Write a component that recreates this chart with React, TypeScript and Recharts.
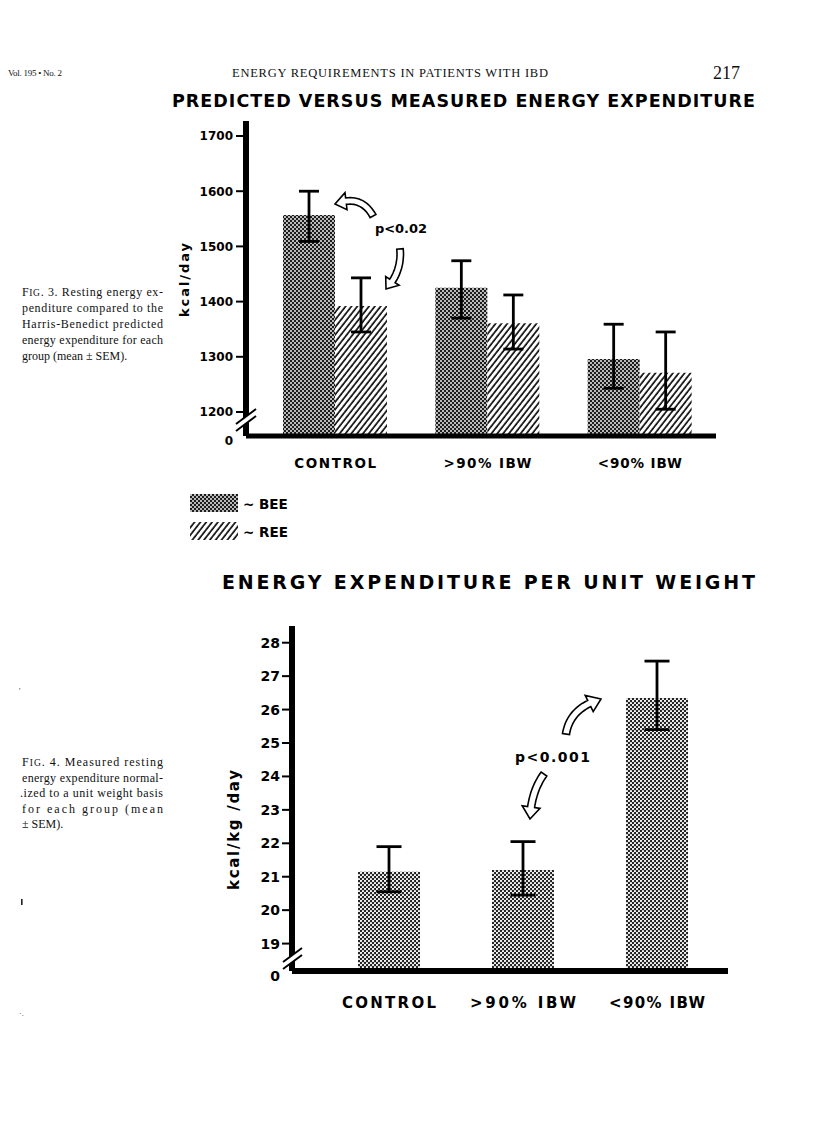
import React from 'react';
import { BarChart, Bar, XAxis, YAxis, ErrorBar } from 'recharts';

// Fig. 3 – predicted (BEE) vs measured (REE) energy expenditure, kcal/day
const groups = ['CONTROL', '>90% IBW', '<90% IBW'];
const beeValues = [1557, 1425, 1296];
const beeErrors = [[48, 43], [55, 49], [53, 63]];
const reeValues = [1392, 1361, 1271];
const reeErrors = [[47, 51], [47, 51], [66, 74]];
const kcalTicks = [1200, 1300, 1400, 1500, 1600, 1700];
const kcalDomain = [1156.5, 1727.2];

// Fig. 4 – measured REE per unit weight, kcal/kg/day
const perKgValues = [21.15, 21.2, 26.35];
const perKgErrors = [[0.6, 0.75], [0.75, 0.85], [0.95, 1.1]];
const perKgTicks = [19, 20, 21, 22, 23, 24, 25, 26, 27, 28];
const perKgDomain = [18.18, 28.5];

const breakLabel = '0';

const kcalData = groups.map((group, i) => ({
  group,
  bee: beeValues[i],
  beeErr: beeErrors[i],
  ree: reeValues[i],
  reeErr: reeErrors[i],
}));

const perKgData = groups.map((group, i) => ({
  group,
  value: perKgValues[i],
  err: perKgErrors[i],
}));

const SANS = '"DejaVu Sans", "Liberation Sans", sans-serif';
const SERIF = '"Liberation Serif", "Times New Roman", serif';

type P = [number, number];

// hollow curved arrow (outline) built along a quadratic curve
function arrowPath(p0: P, c: P, p1: P, w: number, hl: number, hw: number) {
  const q = (t: number): P => [
    (1 - t) * (1 - t) * p0[0] + 2 * (1 - t) * t * c[0] + t * t * p1[0],
    (1 - t) * (1 - t) * p0[1] + 2 * (1 - t) * t * c[1] + t * t * p1[1],
  ];
  const d = (t: number): P => [
    2 * (1 - t) * (c[0] - p0[0]) + 2 * t * (p1[0] - c[0]),
    2 * (1 - t) * (c[1] - p0[1]) + 2 * t * (p1[1] - c[1]),
  ];
  let len = 0;
  let prev = p0;
  for (let i = 1; i <= 40; i++) {
    const pt = q(i / 40);
    len += Math.hypot(pt[0] - prev[0], pt[1] - prev[1]);
    prev = pt;
  }
  const th = 1 - hl / len;
  const nrm = (t: number): P => {
    const dv = d(t);
    const m = Math.hypot(dv[0], dv[1]) || 1;
    return [-dv[1] / m, dv[0] / m];
  };
  const left: P[] = [];
  const right: P[] = [];
  const N = 16;
  for (let i = 0; i <= N; i++) {
    const t = (th * i) / N;
    const pt = q(t);
    const n = nrm(t);
    left.push([pt[0] + (n[0] * w) / 2, pt[1] + (n[1] * w) / 2]);
    right.push([pt[0] - (n[0] * w) / 2, pt[1] - (n[1] * w) / 2]);
  }
  const base = q(th);
  const n = nrm(th);
  const pts: P[] = [
    ...left,
    [base[0] + (n[0] * hw) / 2, base[1] + (n[1] * hw) / 2],
    p1,
    [base[0] - (n[0] * hw) / 2, base[1] - (n[1] * hw) / 2],
    ...right.reverse(),
  ];
  return 'M' + pts.map((p) => `${p[0].toFixed(1)},${p[1].toFixed(1)}`).join(' L') + ' Z';
}

const makeYTick = (firstTick: number, fontSize: number, gap: number) => (props: any) => {
  const { x, y, payload } = props;
  const isBreak = payload.value < firstTick;
  return (
    <g>
      {!isBreak && <line x1={x - 10} x2={x - 2} y1={y} y2={y} stroke="#000" strokeWidth={2} />}
      <text
        x={x - gap}
        y={y + (isBreak ? 5 : 0)}
        dy="0.36em"
        textAnchor="end"
        fontFamily={SANS}
        fontWeight={700}
        fontSize={fontSize}
        fill="#000"
      >
        {isBreak ? breakLabel : payload.value}
      </text>
    </g>
  );
};

const makeXTick = (dy: number, fontSize: number, widths: number[]) => (props: any) => {
  const { x, y, payload, index } = props;
  return (
    <text
      x={x}
      y={y + dy}
      textAnchor="middle"
      fontFamily={SANS}
      fontWeight={700}
      fontSize={fontSize}
      textLength={widths[index]}
      lengthAdjust="spacing"
      fill="#000"
    >
      {payload.value}
    </text>
  );
};

const KcalYTick = makeYTick(kcalTicks[0], 12, 13);
const PerKgYTick = makeYTick(perKgTicks[0], 14, 12);
const KcalXTick = makeXTick(32, 13.5, [82, 88, 84]);
const PerKgXTick = makeXTick(37, 15, [94, 106, 96]);

const Patterns = ({ prefix }: { prefix: string }) => (
  <defs>
    <pattern id={`${prefix}bee`} width="4" height="4" patternUnits="userSpaceOnUse">
      <rect width="4" height="4" fill="#1c1c1c" />
      <circle cx="1" cy="1" r="0.95" fill="#fff" />
      <circle cx="3" cy="3" r="0.95" fill="#fff" />
    </pattern>
    <pattern id={`${prefix}kg`} width="4" height="4" patternUnits="userSpaceOnUse">
      <rect width="4" height="4" fill="#222" />
      <circle cx="1" cy="1" r="1.12" fill="#fff" />
      <circle cx="3" cy="3" r="1.12" fill="#fff" />
    </pattern>
    <pattern
      id={`${prefix}ree`}
      width="4.6"
      height="4.6"
      patternUnits="userSpaceOnUse"
      patternTransform="rotate(38)"
    >
      <rect width="4.6" height="4.6" fill="#fff" />
      <line x1="1" y1="0" x2="1" y2="4.6" stroke="#000" strokeWidth="1.6" />
    </pattern>
  </defs>
);

const Overlay = () => {
  const capLine = (text: string, y: number, width?: number, x = 22) => (
    <text
      key={text}
      x={x}
      y={y}
      fontFamily={SERIF}
      fontSize={12}
      fill="#111"
      textLength={width}
      lengthAdjust={width ? 'spacing' : undefined}
    >
      {text}
    </text>
  );
  return (
    <svg
      width={816}
      height={1138}
      style={{ position: 'absolute', left: 0, top: 0, pointerEvents: 'none' }}
    >
      <Patterns prefix="lg-" />
      {/* running head */}
      <text x={8} y={76} fontFamily={SERIF} fontSize={9} textLength={54} fill="#111">
        Vol. 195 • No. 2
      </text>
      <text x={232} y={77} fontFamily={SERIF} fontSize={12.5} textLength={316} fill="#111">
        ENERGY REQUIREMENTS IN PATIENTS WITH IBD
      </text>
      <text x={713} y={79} fontFamily={SERIF} fontSize={18} fill="#111">
        217
      </text>

      {/* titles */}
      <text x={172} y={107} fontFamily={SANS} fontWeight={700} fontSize={17.5} textLength={583} fill="#000">
        PREDICTED VERSUS MEASURED ENERGY EXPENDITURE
      </text>
      <text x={222} y={589} fontFamily={SANS} fontWeight={700} fontSize={19} textLength={533} fill="#000">
        ENERGY EXPENDITURE PER UNIT WEIGHT
      </text>

      {/* captions */}
      <text x={22} y={296} fontFamily={SERIF} fontSize={12} fill="#111" textLength={141}>
        F<tspan fontSize={9.5}>IG</tspan>. 3. Resting energy ex-
      </text>
      {capLine('penditure compared to the', 312, 141)}
      {capLine('Harris-Benedict  predicted', 328, 141)}
      {capLine('energy expenditure for each', 344, 141)}
      {capLine('group (mean ±  SEM).', 360)}

      <text x={22} y={766} fontFamily={SERIF} fontSize={12} fill="#111" textLength={141}>
        F<tspan fontSize={9.5}>IG</tspan>. 4. Measured resting
      </text>
      {capLine('energy expenditure normal-', 781.5, 141)}
      {capLine('.ized to a unit weight basis', 797, 143, 20)}
      {capLine('for  each  group  (mean', 812.5, 141)}
      {capLine('± SEM).', 828)}

      {/* stray specks from the scan */}
      <text x={19} y={694} fontFamily={SERIF} fontSize={8} fill="#333">'</text>
      <rect x={21} y={899} width={1.6} height={6} fill="#222" />
      <text x={19} y={1016} fontFamily={SERIF} fontSize={8} fill="#333">·.</text>

      {/* axis titles */}
      <text
        x={184}
        y={280}
        transform="rotate(-90 184 280)"
        textAnchor="middle"
        dy="0.35em"
        fontFamily={SANS}
        fontWeight={700}
        fontSize={13}
        textLength={74}
        fill="#000"
      >
        kcal/day
      </text>
      <text
        x={234}
        y={830}
        transform="rotate(-90 234 830)"
        textAnchor="middle"
        dy="0.35em"
        fontFamily={SANS}
        fontWeight={700}
        fontSize={15}
        textLength={120}
        fill="#000"
      >
        kcal/kg /day
      </text>

      {/* axis breaks */}
      <polygon points="236,424 256,409 256,416 236,431" fill="#fff" />
      <line x1={236} y1={424} x2={256} y2={409} stroke="#000" strokeWidth={2} />
      <line x1={236} y1={431} x2={256} y2={416} stroke="#000" strokeWidth={2} />
      <polygon points="283,962 302,948 302,955 283,969" fill="#fff" />
      <line x1={283} y1={962} x2={302} y2={948} stroke="#000" strokeWidth={2} />
      <line x1={283} y1={969} x2={302} y2={955} stroke="#000" strokeWidth={2} />

      {/* significance annotations */}
      <path d={arrowPath([373, 216], [361, 194], [335, 204], 6.5, 10, 17)} fill="#fff" stroke="#000" strokeWidth={1.6} />
      <path d={arrowPath([400, 249], [402, 272], [386, 289], 6.5, 10, 16)} fill="#fff" stroke="#000" strokeWidth={1.6} />
      <text x={375} y={233} fontFamily={SANS} fontWeight={700} fontSize={13} textLength={52} fill="#000">
        p&lt;0.02
      </text>
      <path d={arrowPath([566, 734], [570, 708], [601, 699], 7, 11, 18)} fill="#fff" stroke="#000" strokeWidth={1.6} />
      <path d={arrowPath([544, 774], [531, 792], [530, 819], 7, 11, 18)} fill="#fff" stroke="#000" strokeWidth={1.6} />
      <text x={515} y={762} fontFamily={SANS} fontWeight={700} fontSize={14} textLength={75} fill="#000">
        p&lt;0.001
      </text>

      {/* legend */}
      <rect x={190} y={494} width={48} height={18} fill="url(#lg-bee)" />
      <text x={243} y={509} fontFamily={SANS} fontWeight={700} fontSize={13.5} fill="#000">
        ~ BEE
      </text>
      <rect x={190} y={522} width={48} height={18} fill="url(#lg-ree)" />
      <text x={243} y={537} fontFamily={SANS} fontWeight={700} fontSize={13.5} fill="#000">
        ~ REE
      </text>
    </svg>
  );
};

// error bars are drawn in a second, axis-less chart on top so that the
// whisker stays solid black where it crosses the patterned bar
const errStyle = { stroke: '#000', strokeWidth: 2.8 };

export default function App() {
  return (
    <div style={{ position: 'absolute', left: 0, top: 0, width: 816, height: 1138, background: '#fff' }}>
      <div style={{ position: 'absolute', left: 0, top: 0 }}>
        <BarChart
          width={816}
          height={560}
          data={kcalData}
          margin={{ top: 121, right: 100, left: 186, bottom: 84 }}
          barGap={0}
        >
          <Patterns prefix="c1-" />
          <XAxis
            dataKey="group"
            height={40}
            axisLine={{ stroke: '#000', strokeWidth: 5 }}
            tickLine={false}
            tickSize={0}
            tickMargin={0}
            interval={0}
            padding={{ left: 13, right: 0 }}
            tick={<KcalXTick />}
          />
          <YAxis
            type="number"
            width={60}
            domain={kcalDomain}
            allowDataOverflow
            ticks={[kcalDomain[0], ...kcalTicks]}
            interval={0}
            axisLine={{ stroke: '#000', strokeWidth: 6 }}
            tickLine={false}
            tickSize={0}
            tickMargin={0}
            tick={<KcalYTick />}
          />
          <Bar dataKey="bee" fill="url(#c1-bee)" barSize={52} isAnimationActive={false} />
          <Bar dataKey="ree" fill="url(#c1-ree)" barSize={52} isAnimationActive={false} />
        </BarChart>
      </div>
      <div style={{ position: 'absolute', left: 0, top: 0 }}>
        <BarChart
          width={816}
          height={560}
          data={kcalData}
          margin={{ top: 121, right: 100, left: 246, bottom: 124 }}
          barGap={0}
        >
          <XAxis dataKey="group" hide padding={{ left: 13, right: 0 }} />
          <YAxis type="number" hide domain={kcalDomain} allowDataOverflow />
          <Bar dataKey="bee" fill="none" barSize={52} isAnimationActive={false}>
            <ErrorBar dataKey="beeErr" direction="y" width={10} {...errStyle} />
          </Bar>
          <Bar dataKey="ree" fill="none" barSize={52} isAnimationActive={false}>
            <ErrorBar dataKey="reeErr" direction="y" width={10} {...errStyle} />
          </Bar>
        </BarChart>
      </div>
      <div style={{ position: 'absolute', left: 0, top: 560 }}>
        <BarChart
          width={816}
          height={560}
          data={perKgData}
          margin={{ top: 66, right: 88, left: 232, bottom: 109 }}
        >
          <Patterns prefix="c2-" />
          <XAxis
            dataKey="group"
            height={40}
            axisLine={{ stroke: '#000', strokeWidth: 6 }}
            tickLine={false}
            tickSize={0}
            tickMargin={0}
            interval={0}
            padding={{ left: 30, right: 4 }}
            tick={<PerKgXTick />}
          />
          <YAxis
            type="number"
            width={60}
            domain={perKgDomain}
            allowDataOverflow
            ticks={[perKgDomain[0], ...perKgTicks]}
            interval={0}
            axisLine={{ stroke: '#000', strokeWidth: 6 }}
            tickLine={false}
            tickSize={0}
            tickMargin={0}
            tick={<PerKgYTick />}
          />
          <Bar dataKey="value" fill="url(#c2-kg)" barSize={62} isAnimationActive={false} />
        </BarChart>
      </div>
      <div style={{ position: 'absolute', left: 0, top: 560 }}>
        <BarChart
          width={816}
          height={560}
          data={perKgData}
          margin={{ top: 66, right: 88, left: 292, bottom: 149 }}
        >
          <XAxis dataKey="group" hide padding={{ left: 30, right: 4 }} />
          <YAxis type="number" hide domain={perKgDomain} allowDataOverflow />
          <Bar dataKey="value" fill="none" barSize={62} isAnimationActive={false}>
            <ErrorBar dataKey="err" direction="y" width={12.5} {...errStyle} />
          </Bar>
        </BarChart>
      </div>
      <Overlay />
    </div>
  );
}
